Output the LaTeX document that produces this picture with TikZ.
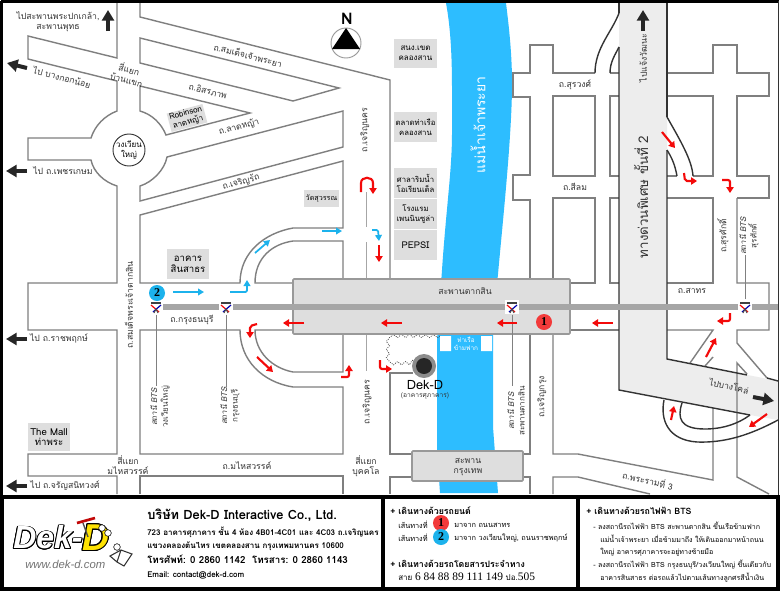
\documentclass[tikz,border=0pt]{standalone}
\usepackage{fontspec}
\usepackage{contour}
\setmainfont[Script=Thai]{Loma}
\newfontfamily\logofont{Liberation Sans}
\newfontfamily\busfont{Liberation Serif}
\usetikzlibrary{arrows.meta,decorations.pathmorphing}
\definecolor{roadgray}{HTML}{7F7F7F}
\definecolor{plategray}{HTML}{DEDEDE}
\definecolor{rivercyan}{HTML}{2DBDFF}
\definecolor{routeblue}{HTML}{1CB2EC}
\definecolor{routered}{HTML}{F30A0A}
\definecolor{markred}{HTML}{F23A3A}
\contourlength{0.7pt}

\begin{document}
\begin{tikzpicture}[x=0.75pt,y=-0.75pt,font=\rmfamily\fontsize{6.5}{7.8}\selectfont,
  road/.style={draw=roadgray,line width=1.05pt,line join=miter},
  darkroad/.style={draw=black!80,line width=1.05pt},
  redway/.style={draw=routered,line width=1.6pt,rounded corners=1.5pt,-{Triangle[length=4.5pt,width=5.5pt]}},
  blueway/.style={draw=routeblue,line width=1.3pt,rounded corners=1pt,-{Triangle[length=4.5pt,width=5pt]}},
  bigway/.style={draw=black!85,line width=3pt,-{Triangle[length=8pt,width=9pt]}},
  plate/.style={fill=plategray,inner sep=0pt,align=center},
  lbl/.style={align=center,inner sep=0pt,text=black!80},
  bridge/.style={fill=plategray,draw=black!40,line width=1.2pt,rounded corners=0.8pt},
  panel/.style={draw=black,line width=2.4pt},
  spot/.style={circle,minimum size=16*0.75pt,inner sep=0pt,font=\busfont\bfseries\fontsize{9}{9}\selectfont},
  head/.style={anchor=west,inner sep=0pt,font=\rmfamily\bfseries\fontsize{6.6}{8}\selectfont},
  route/.style={anchor=west,inner sep=0pt,font=\rmfamily\fontsize{5.5}{7}\selectfont},
  bodytext/.style={anchor=west,inner sep=0pt,font=\rmfamily\bfseries\fontsize{6}{7}\selectfont},
  steptext/.style={anchor=west,inner sep=0pt,font=\rmfamily\fontsize{5.3}{7}\selectfont}]
\useasboundingbox (0,0) rectangle (780,593);
\fill[white] (0,0) rectangle (780,593);
\fill[rivercyan] (446,3) .. controls (450,25) and (452,50) .. (452,90) -- (452,133)
  .. controls (452,170) and (446,210) .. (442,270) -- (437,340) -- (437,450) -- (440,493)
  -- (498,493) -- (493,427) -- (493,335) .. controls (497,270) and (512,150) .. (512,83)
  .. controls (512,50) and (508,20) .. (506,3) -- cycle;
\fill[black!7] (619,3) -- (667,3) -- (667,359) -- (778,381) -- (778,420) -- (750,415) -- (619,390) -- cycle;
\foreach \P in {
  {(117,3) -- (117,58) -- (28,36) -- (28,59) -- (117,81) -- (117,111) .. controls (104.6,115.7) and (94.9,125.6) .. (91,138) -- (28,138) -- (28,160) -- (91,160) .. controls (93.5,172) and (104,182) .. (117,186) -- (117,283) -- (28,283) -- (28,330) -- (117,330) -- (117,454) -- (28,454) -- (28,476) -- (117,476) -- (117,494)},
  {(140,3) -- (140,17) -- (390,80) -- (390,279)},
  {(140,38) -- (339,88) -- (293,101) -- (140,63) -- cycle},
  {(140,86) -- (250,113) -- (166,135) .. controls (161.4,123.5) and (152,114.4) .. (140,111) -- cycle},
  {(343,111) -- (167,157) .. controls (164.7,169.7) and (152.4,182.2) .. (140,186) -- (140,201) -- (343,147) -- cycle},
  {(140,215) -- (343,161) -- (343,228) -- (293,228) .. controls (265,233) and (240,252) .. (240,283) -- (140,283) -- cycle},
  {(343,279) -- (343,241) -- (293,241) .. controls (272,244) and (255,258) .. (255,283) -- (293,283)},
  {(140,330) -- (240,330) .. controls (240,360) and (262,382) .. (293,387) -- (343,387) -- (343,454) -- (140,454) -- cycle},
  {(293,330) -- (255,330) .. controls (255,352) and (272,368) .. (293,372) -- (343,372) -- (343,334)},
  {(140,494) -- (140,476) -- (343,476) -- (343,494)},
  {(413,373) -- (390,373) -- (390,454) -- (412,454)},
  {(412,477) -- (390,477) -- (390,494)},
  {(530,334) -- (530,454) -- (523,454)},
  {(523,477) -- (530,477) -- (530,494)},
  {(530,279) -- (530,200) -- (513,200) -- (513,175) -- (530,175) -- (530,97) -- (513,97) -- (513,73) -- (530,73) -- (530,45) -- (553,45) -- (553,73) -- (595,73)},
  {(553,96) rectangle (595,176)},
  {(619,96) -- (610,96) -- (610,176) -- (619,176)},
  {(553,279) -- (553,198) -- (595,198) -- (595,283) -- (569,283)},
  {(619,198) -- (610,198) -- (610,283) -- (619,283)},
  {(569,330) -- (619,330)},
  {(553,334) -- (553,454) -- (578,454) -- (713,480) -- (713,408)},
  {(553,494) -- (553,477) -- (578,477) -- (650,494)},
  {(769,494) -- (737,477) -- (737,363) -- (747,374)},
  {(737,198) -- (737,283) -- (769,283) -- (769,330) -- (737,330) -- (737,343) -- (767,378)},
  {(667,283) -- (713,283) -- (713,198) -- (667,198)},
  {(667,330) -- (713,330) -- (690,363)},
  {(713,357) -- (705,366)},
  {(667,73) -- (713,73) -- (713,45) -- (737,45) -- (737,73) -- (769,73) -- (769,96) -- (737,96) -- (737,176) -- (769,176) -- (769,198) -- (737,198)},
  {(667,96) -- (713,96) -- (713,176) -- (693,176)},
  {(667,176) -- (677,176)},
  {(610,73) -- (619,73)}}
  \draw[road] \P;
\foreach \P in {
  {(619,3) -- (619,13)},
  {(619,47) -- (619,390) -- (750,415)},
  {(667,3) -- (667,117)},
  {(667,150) -- (667,359) -- (747,375)},
  {(767,378) -- (778,381)},
  {(595,73) .. controls (595,48) and (612,32) .. (619,13)},
  {(610,73) .. controls (610,62) and (615,55) .. (619,47)},
  {(693,176) .. controls (692,160) and (680,140) .. (667,117)},
  {(677,176) .. controls (675,165) and (672,158) .. (667,150)},
  {(664,400) .. controls (660,420) and (668,440) .. (697,442) .. controls (725,443) and (750,435) .. (778,420)},
  {(682,403) .. controls (677,418) and (680,429) .. (705,429) .. controls (722,429) and (738,424) .. (750,415)}}
  \draw[darkroad] \P;
\foreach \P in {{(366,192) -- (366,227)},{(366,242) -- (366,279)},{(366,335) -- (366,371)}}
  \draw[draw=black!35,line width=0.6pt] \P;
\draw[draw=black!75,line width=0.6pt,densely dotted,decorate,decoration={snake,segment length=6pt,amplitude=1.2pt}]
  (440,336) -- (390,336) -- (390,360) -- (413,360);
\fill[white] (440,336) rectangle (451,351) (481,336) rectangle (492,351);
\node[inner sep=0pt,align=center,text=white,font=\rmfamily\fontsize{4.8}{6}\selectfont] (pier) at (466,344) {ท่าเรือ\\ข้ามฟาก};
\node[bridge,minimum width=277*0.75pt,minimum height=55*0.75pt,inner sep=0pt] (B-taksin) at (431.5,306.5) {};
\node[bridge,minimum width=111*0.75pt,minimum height=30*0.75pt,inner sep=0pt] (B-krungthep) at (467.5,466) {};
\fill[black!35] (163,304) rectangle (778,310);
\foreach \X [count=\Y] in {156,226,512,745}
  {\node[fill=white,minimum size=11pt,inner sep=0pt] (I-\Y) at (\X,307) {};
  \fill[black!75] (\X-5,302) rectangle (\X+5,303.5);
  \draw[routered,line width=0.9pt] (\X-5,305) -- (\X+3,312);
  \draw[blue!70!black,line width=0.9pt] (\X+5,305) -- (\X-3,312);
  \draw[black!70,line width=0.7pt] (\X-2,313) -- (\X,309) -- (\X+2,313);}
\foreach \X/\Z/\R/\T [count=\Y] in {
  58/22/0/{ไปสะพานพระปกเกล้า,\\สะพานพุทธ}, 248/55/-14.5/ถ.สมเด็จเจ้าพระยา, 128/74/-15/สี่แยก\\บ้านแขก,
  62/77/-15/ไป บางกอกน้อย, 208/91/-15/ถ.อิสรภาพ, 239/127/15/ถ.ลาดหญ้า, 63/171/0/ไป ถ.เพชรเกษม,
  241/182/15/ถ.เจริญรัถ, 365/130/90/ถ.เจริญนคร, 192/320/0/ถ.กรุงธนบุรี, 129/305/90/ถ.สมเด็จพระเจ้าตากสิน,
  59/338/0/ไป ถ.ราชพฤกษ์, 128/465/0/สี่แยก\\มไหสวรรค์, 247/466/0/ถ.มไหสวรรค์, 65/486/0/ไป ถ.จรัญสนิทวงศ์,
  465/291/0/สะพานตากสิน, 367/402/90/ถ.เจริญนคร, 366/466/0/สี่แยก\\บุคคโล, 468/467/0/สะพาน\\กรุงเทพ,
  542/397/90/ถ.เจริญกรุง, 648/480/-13/ถ.พระรามที่ 3, 729/386/-13/ไปบางโคล่, 692/291/0/ถ.สาทร,
  575/187/0/ถ.สีลม, 575/85/0/ถ.สุรวงศ์, 643/58/90/ไปแจ้งวัฒนะ, 723/236/90/ถ.สุรศักดิ์}
  {\node[lbl,rotate=\R] (L-\Y) at (\X,\Z) {\T};}
\foreach \X/\Z/\T [count=\Y] in {
  160/407/{\itshape สถานี BTS\\วงเวียนใหญ่}, 230/406/{\itshape สถานี BTS\\กรุงธนบุรี}, 516/411/{\itshape สถานี BTS\\สะพานตากสิน}, 749/236/{\itshape สถานี BTS\\สุรศักดิ์}}
  {\node[lbl,rotate=90,font=\rmfamily\fontsize{6}{8}\selectfont] (S-\Y) at (\X,\Z) {\T};}
\foreach \Y in {1,2,3}
  {\draw[draw=black!50,line width=0.6pt] (I-\Y.south) -- (I-\Y.south |- S-\Y.east);}
\draw[draw=black!50,line width=0.6pt] (I-4.north) -- (I-4.north |- S-4.west);
\foreach \X/\Z/\W/\H/\F/\T [count=\Y] in {
  415.5/53.5/43/29/6/สนง.เขต\\คลองสาน, 415.5/127/43/30/5.8/ตลาดท่าเรือ\\คลองสาน, 415.5/183/43/30/5.8/ศาลาริมน้ำ\\โอเรียนเต็ล,
  415.5/214/43/30/5.8/โรงแรม\\เพนนินซูล่า, 415.5/245/43/30/7/PEPSI, 321.5/198.5/35/17/5.4/วัดสุวรรณ, 49/437/42/28/7.2/The Mall\\ท่าพระ}
  {\node[plate,minimum width=\W*0.75pt,minimum height=\H*0.75pt,font=\rmfamily\fontsize{\F}{7.6}\selectfont] (P-\Y) at (\X,\Z) {\T};}
\node[plate,rotate=15,minimum width=37*0.75pt,minimum height=19*0.75pt,font=\rmfamily\fontsize{6}{7}\selectfont] (robinson) at (187,118) {Robinson\\ลาดหญ้า};
\node[plate,minimum width=42*0.75pt,minimum height=30*0.75pt,font=\rmfamily\fontsize{7.2}{8.4}\selectfont] (sinsathorn) at (188,264) {อาคาร\\สินสาธร};
\node[circle,draw=black!80,fill=white,line width=0.7pt,minimum size=32*0.75pt,inner sep=0pt,align=center,font=\rmfamily\fontsize{6}{7.5}\selectfont] (wongwian) at (129,150) {วงเวียน\\ใหญ่};
\node[inner sep=0pt,rotate=90,text=white,font=\rmfamily\fontsize{10.5}{12}\selectfont] (river) at (478,125) {แม่น้ำเจ้าพระยา};
\node[inner sep=0pt,rotate=90,text=black!80,font=\rmfamily\fontsize{10}{12}\selectfont] (express) at (641,197) {ทางด่วนพิเศษ ขั้นที่ 2};
\node[inner sep=0pt,font=\rmfamily\bfseries\fontsize{12}{12}\selectfont] (north) at (347,19) {N};
\node[circle,draw=black!40,line width=0.7pt,minimum size=30*0.75pt,inner sep=0pt] (compass) at (346,43) {};
\fill[black] (346,28) -- (360,49) -- (332,49) -- cycle;
\node[circle,fill=black!45,minimum size=24*0.75pt,inner sep=0pt] (mark) at (424,366) {};
\node[circle,fill=black!85,minimum size=16*0.75pt,inner sep=0pt] at (mark) {};
\node[inner sep=0pt,font=\rmfamily\fontsize{9.6}{10}\selectfont] (dekd) at (425,385) {Dek-D};
\node[lbl,font=\rmfamily\fontsize{5}{6}\selectfont] (dekd-sub) at (425,396) {(อาคารศุภาคาร)};
\node[spot,fill=routeblue] (two) at (157,293) {2};
\node[spot,fill=markred] (one) at (544,322) {1};
\foreach \P in {
  {(108,31) -- (108,10)},{(27,68) -- (7,63)},{(27,171) -- (6,171)},{(27,339) -- (6,339)},{(27,486) -- (6,486)},
  {(643,31) -- (643,10)},{(753,397) -- (774,401)}}
  \draw[bigway] \P;
\foreach \P in {
  {(304,323) -- (283,323)},{(402,323) -- (381,323)},{(517,323) -- (497,323)},{(613,323) -- (592,323)},
  {(257,324) -- (250,326) -- (250,338)},{(257,357) -- (273,372)},
  {(341,377) -- (349,377) -- (349,365)},{(380,360) -- (380,369) -- (392,369)},
  {(379,245) -- (379,262)},{(662,132) -- (675,148)},{(684,173) -- (685,181) -- (697,181)},
  {(722,180) -- (730,180) -- (730,193)},{(730,313) -- (730,321) -- (717,321)},
  {(706,357) -- (716,338)},{(671,420) -- (674,406)},{(767,414) -- (749,427)},
  {(361,192) -- (361,185) .. controls (361,176) and (373,176) .. (373,185) -- (373,194)}}
  \draw[redway] \P;
\foreach \P in {
  {(322,231) -- (342,231)},{(372,230) -- (378,230) -- (379,241)},{(173,292) -- (204,292)},
  {(230,292) -- (247,292) -- (247,280)},{(255,253) -- (270,240)}}
  \draw[blueway] \P;
\draw[black,line width=2.2pt] (1,1.5) -- (778.5,1.5);
\draw[black,line width=2.2pt] (1.5,1) -- (1.5,497);
\draw[black!80,line width=0.7pt] (778.5,1) -- (778.5,497);
\draw[panel] (2,497) rectangle (383,589);
\draw[panel] (383,497) rectangle (578,589);
\draw[panel] (578,497) rectangle (778,589);
\node[anchor=west,inner sep=0pt,font=\logofont\bfseries\itshape\fontsize{24}{24}\selectfont] (logo-dek) at (13,538) {\contour{black}{\textcolor{white}{Dek-}}};
\node[anchor=west,inner sep=0pt,font=\logofont\bfseries\itshape\fontsize{28}{28}\selectfont] (logo-d) at (82,538) {\contour{black}{\textcolor{yellow!85!orange}{D}}};
\node[anchor=west,inner sep=0pt,text=black!55,font=\logofont\itshape\fontsize{8.5}{8.5}\selectfont] (logo-web) at (25,564) {www.dek-d.com};
\draw[draw=routered!80!black,line width=2pt] (77,523) -- (95,518);
\draw[draw=black!70,line width=1pt] (83,523) -- (88,537);
\foreach \X/\Z in {102/528,108/533,117/547}
  {\node[circle,draw=black,fill=white,minimum size=5pt,inner sep=0pt] at (\X,\Z) {};}
\draw[draw=black!80,fill=white,line width=0.8pt] (110,556) -- (121,550) -- (132,554) -- (124,566) -- (117,562) -- cycle (121,550) -- (117,562);
\node[anchor=west,inner sep=0pt,font=\rmfamily\bfseries\fontsize{9.6}{12}\selectfont] (T-1) at (147,515) {บริษัท Dek-D Interactive Co., Ltd.};
\foreach \Z/\T [count=\Y from 2] in {532/723 อาคารศุภาคาร ชั้น 4 ห้อง 4B01-4C01 และ 4C03 ถ.เจริญนคร,
  546/แขวงคลองต้นไทร เขตคลองสาน กรุงเทพมหานคร 10600, 575/Email: contact@dek-d.com}
  {\node[bodytext] (T-\Y) at (147,\Z) {\T};}
\node[bodytext,font=\rmfamily\bfseries\fontsize{7.3}{9}\selectfont] (T-5) at (147,559) {โทรศัพท์: 0 2860 1142 \ โทรสาร: 0 2860 1143};
\foreach \X/\Z/\T [count=\Y] in {390/511/+ เดินทางด้วยรถยนต์, 390/564/+ เดินทางด้วยรถโดยสารประจำทาง, 586/511/+ เดินทางด้วยรถไฟฟ้า BTS}
  {\node[head] (C-\Y) at (\X,\Z) {\T};}
\foreach \X/\Z/\T [count=\Y] in {398/525/เส้นทางที่, 398/538/เส้นทางที่, 454/525/มาจาก ถนนสาทร, 454/538/{มาจาก วงเวียนใหญ่, ถนนราชพฤกษ์}}
  {\node[route] (W-\Y) at (\X,\Z) {\T};}
\node[spot,fill=markred] (W-one) at (441,523) {1};
\node[spot,fill=routeblue] (W-two) at (441,537) {2};
\node[route,font=\rmfamily\fontsize{6}{8}\selectfont] (bus) at (398,577) {สาย {\busfont\fontsize{8.6}{10}\selectfont 6 84 88 89 111 149} ปอ.{\busfont\fontsize{8.6}{10}\selectfont 505}};
\foreach \X/\Z/\T [count=\Y] in {
  593/526/- ลงสถานีรถไฟฟ้า BTS สะพานตากสิน ขึ้นเรือข้ามฟาก,
  600/539/แม่น้ำเจ้าพระยา เมื่อข้ามมาถึง ให้เดินออกมาหน้าถนน,
  600/552/ใหญ่ อาคารศุภาคารจะอยู่ทางซ้ายมือ,
  593/565/{- ลงสถานีรถไฟฟ้า BTS กรุงธนบุรี/วงเวียนใหญ่ ขึ้นเดียวกับ},
  600/578/อาคารสินสาธร ต่อรถแล้วไปตามเส้นทางลูกศรสีน้ำเงิน}
  {\node[steptext] (R-\Y) at (\X,\Z) {\T};}
\end{tikzpicture}
\end{document}
